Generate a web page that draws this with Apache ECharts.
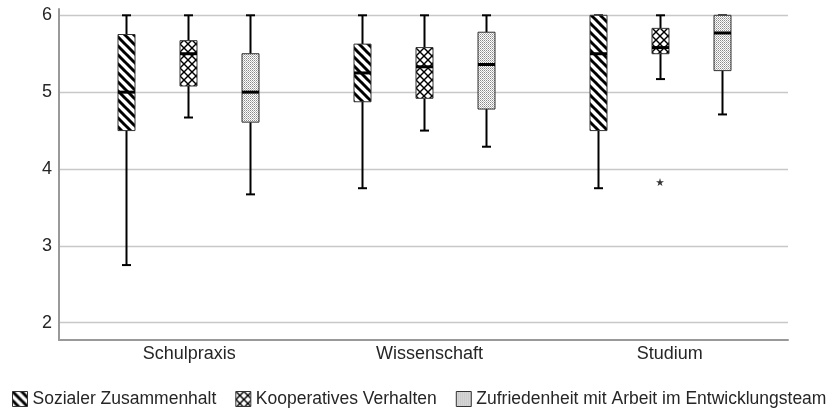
<!DOCTYPE html>
<html><head><meta charset="utf-8">
<script src="https://cdn.jsdelivr.net/npm/echarts@6/dist/echarts.min.js"></script>
<style>html,body{margin:0;padding:0;background:#fff}#c{width:836px;height:412px}</style>
</head><body><div id="c"></div>
<script>
// ---- data ----
const categories = ['Schulpraxis', 'Wissenschaft', 'Studium'];
const seriesNames = ['Sozialer Zusammenhalt', 'Kooperatives Verhalten', 'Zufriedenheit mit Arbeit im Entwicklungsteam'];
// each entry: [min, Q1, median, Q3, max] per category
const sozialerZusammenhalt = [[2.75, 4.5, 5.0, 5.75, 6.0], [3.75, 4.875, 5.25, 5.625, 6.0], [3.75, 4.5, 5.5, 6.0, 6.0]];
const kooperativesVerhalten = [[4.67, 5.08, 5.5, 5.67, 6.0], [4.5, 4.92, 5.33, 5.58, 6.0], [5.17, 5.5, 5.58, 5.83, 6.0]];
const zufriedenheit = [[3.67, 4.61, 5.0, 5.5, 6.0], [4.29, 4.78, 5.36, 5.78, 6.0], [4.71, 5.28, 5.77, 6.0, 6.0]];
// outliers: [categoryIndex, value]
const kooperativesOutliers = [[2, 3.83]];
const yTickLabels = [2, 3, 4, 5, 6];

// ---- patterns ----
function tile(w, h, draw) {
  const c = document.createElement('canvas'); c.width = w; c.height = h;
  const ctx = c.getContext('2d'); ctx.fillStyle = '#fff'; ctx.fillRect(0, 0, w, h);
  draw(ctx); return { image: c, repeat: 'repeat' };
}
const stripePattern = tile(9, 9, ctx => {
  ctx.strokeStyle = '#000'; ctx.lineWidth = 3;
  for (let k = -1; k <= 1; k++) { ctx.beginPath(); ctx.moveTo(k * 9 - 1, -1); ctx.lineTo(k * 9 + 10, 10); ctx.stroke(); }
});
const crossPattern = tile(8, 8, ctx => {
  ctx.strokeStyle = '#000'; ctx.lineWidth = 1.4;
  for (let k = -1; k <= 1; k++) {
    ctx.beginPath(); ctx.moveTo(k * 8 - 1, -1); ctx.lineTo(k * 8 + 9, 9); ctx.stroke();
    ctx.beginPath(); ctx.moveTo(k * 8 - 1, 9); ctx.lineTo(k * 8 + 9, -1); ctx.stroke();
  }
});
const dotPattern = tile(2, 2, ctx => {
  ctx.fillStyle = '#8a8a8a'; ctx.fillRect(0, 0, 1, 1);
  ctx.fillStyle = '#b8b8b8'; ctx.fillRect(1, 1, 1, 1);
});

const BOX_W = 17, CAP_W = 9;
function makeRenderItem(offset, pattern) {
  return function (params, api) {
    const cat = api.value(0);
    const pMin = api.coord([cat, api.value(1)]);
    const pQ1 = api.coord([cat, api.value(2)]);
    const pMed = api.coord([cat, api.value(3)]);
    const pQ3 = api.coord([cat, api.value(4)]);
    const pMax = api.coord([cat, api.value(5)]);
    const x = Math.round(pMin[0] + offset) + 0.5;
    const hw = BOX_W / 2, cw = CAP_W / 2;
    const ln = (x1, y1, x2, y2, w) => ({ type: 'line', shape: { x1, y1, x2, y2 }, style: { stroke: '#000', lineWidth: w } });
    return {
      type: 'group', children: [
        ln(x, pMax[1], x, pQ3[1], 2),
        ln(x, pQ1[1], x, pMin[1], 2),
        ln(x - cw, pMax[1], x + cw, pMax[1], 2),
        ln(x - cw, pMin[1], x + cw, pMin[1], 2),
        { type: 'rect', shape: { x: x - hw, y: pQ3[1], width: BOX_W, height: pQ1[1] - pQ3[1] },
          style: { fill: pattern, stroke: '#333', lineWidth: 1 } },
        ln(x - hw, pMed[1], x + hw, pMed[1], 3)
      ]
    };
  };
}

const seriesData = [sozialerZusammenhalt, kooperativesVerhalten, zufriedenheit];
const patterns = [stripePattern, crossPattern, dotPattern];
const offsets = [-62, 0, 62];
const Y_MIN = 1.775, Y_MAX = 6.082;

const series = seriesData.map((arr, s) => ({
  type: 'custom', name: seriesNames[s], xAxisIndex: 1, yAxisIndex: 1,
  data: arr.map((d, i) => [i].concat(d)),
  encode: { x: 0, y: [1, 2, 3, 4, 5] },
  itemStyle: { color: patterns[s], borderColor: '#333', borderWidth: 1 },
  renderItem: makeRenderItem(offsets[s], patterns[s]),
  clip: false, z: 3
}));
series.push({
  type: 'scatter', name: 'outliers', xAxisIndex: 1, yAxisIndex: 1,
  data: kooperativesOutliers,
  symbol: 'path://M50,0 L61,35 L98,35 L68,57 L79,91 L50,70 L21,91 L32,57 L2,35 L39,35 Z',
  symbolSize: 8, itemStyle: { color: '#000' }, z: 4, silent: true
});

const chart = echarts.init(document.getElementById('c'), null, { renderer: 'canvas' });
chart.setOption({
  animation: false,
  backgroundColor: '#fff',
  textStyle: { fontFamily: 'Liberation Sans, Arial, sans-serif' },
  grid: [
    { left: 59, right: 48, top: 9, bottom: 72 },
    { left: 70, right: 58, top: 9, bottom: 72 },
    { left: 69, right: 46, top: 9, bottom: 72 }
  ],
  xAxis: [
    { gridIndex: 0, type: 'category', data: categories,
      axisLine: { lineStyle: { color: '#999', width: 2 } }, axisTick: { show: false }, axisLabel: { show: false } },
    { gridIndex: 1, type: 'category', data: categories, show: false },
    { gridIndex: 2, type: 'category', data: categories,
      axisLine: { show: false }, axisTick: { show: false },
      axisLabel: { color: '#262626', fontSize: 18, margin: 5, fontFamily: 'Liberation Sans, Arial, sans-serif' } }
  ],
  yAxis: [
    { gridIndex: 0, type: 'value', min: Y_MIN, max: Y_MAX,
      axisLine: { show: true, lineStyle: { color: '#999', width: 2 } }, axisTick: { show: false },
      axisLabel: { color: '#262626', fontSize: 18, margin: 7,
        formatter: v => (yTickLabels.indexOf(Math.round(v * 1000) / 1000) >= 0 ? String(v) : ''),
        showMinLabel: false, showMaxLabel: false },
      splitLine: { show: true, showMinLine: false, showMaxLine: false, lineStyle: { color: '#c8c8c8', width: 1.3 } } },
    { gridIndex: 1, type: 'value', min: Y_MIN, max: Y_MAX, show: false, splitLine: { show: false } },
    { gridIndex: 2, type: 'value', min: Y_MIN, max: Y_MAX, show: false, splitLine: { show: false } }
  ],
  legend: {
    data: seriesNames, left: 12, top: 390, padding: 0,
    icon: 'rect', itemWidth: 15, itemHeight: 15, itemGap: 19,
    itemStyle: { borderColor: '#333', borderWidth: 1 },
    textStyle: { color: '#262626', fontSize: 17.5, fontFamily: 'Liberation Sans, Arial, sans-serif' }
  },
  series: series
});
</script></body></html>
